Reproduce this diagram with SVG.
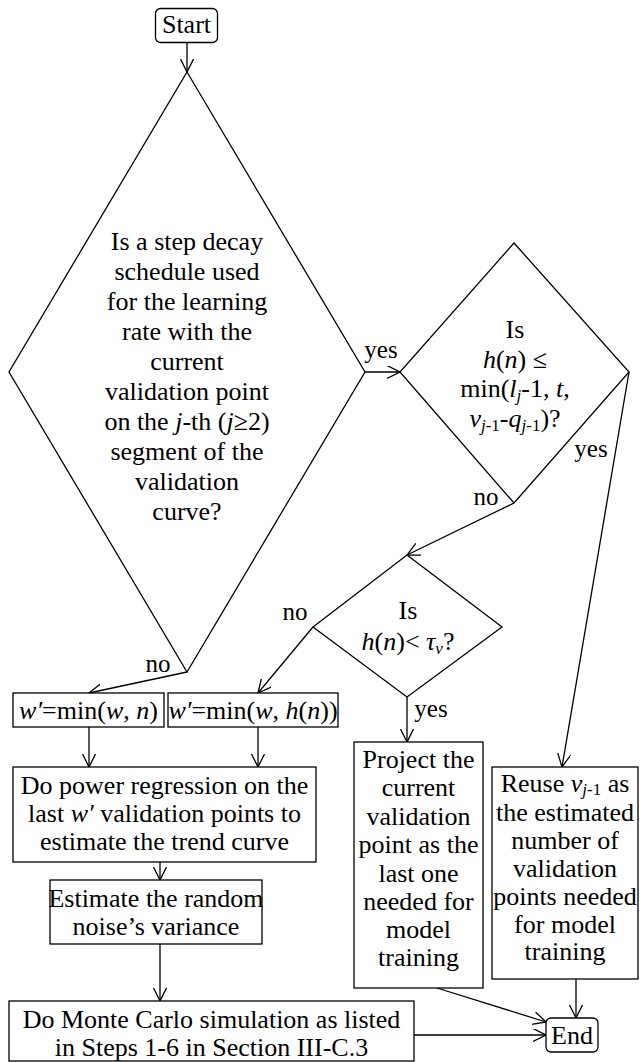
<svg xmlns="http://www.w3.org/2000/svg" width="640" height="1062" viewBox="0 0 640 1062">
<style>
text{font-family:"Liberation Serif","Times New Roman",serif;font-size:26px;fill:#000;text-anchor:middle}
.lbl{font-size:25px}
.i{font-style:italic}
.sub{font-size:17px}
.shape{fill:#fff;stroke:#000;stroke-width:1.3}
.conn line{stroke:#000;stroke-width:1.3;fill:none;marker-end:url(#ah)}
</style>
<defs>
<marker id="ah" markerUnits="userSpaceOnUse" markerWidth="16" markerHeight="16" refX="13" refY="6.5" orient="auto">
<path d="M0,0 L13,6.5 L0,13" fill="none" stroke="#000" stroke-width="1.3"/>
</marker>
</defs>
<g class="conn" id="connectors">
<line x1="187" y1="42" x2="187" y2="72"/>
<line x1="365" y1="372" x2="400" y2="372"/>
<line x1="187" y1="672" x2="89" y2="693"/>
<line x1="514" y1="503" x2="407" y2="555"/>
<line x1="629" y1="372" x2="562" y2="767"/>
<line x1="313" y1="627" x2="258" y2="693"/>
<line x1="407" y1="697" x2="407" y2="742"/>
<line x1="89" y1="727" x2="89" y2="767"/>
<line x1="258" y1="727" x2="258" y2="767"/>
<line x1="160" y1="862" x2="160" y2="880"/>
<line x1="160" y1="944" x2="160" y2="1001"/>
<line x1="414" y1="1035" x2="546" y2="1035"/>
<line x1="437" y1="988" x2="546" y2="1022"/>
<line x1="576" y1="979" x2="576" y2="1018"/>
<text class="lbl" x="381" y="358">yes</text>
<text class="lbl" x="158" y="672">no</text>
<text class="lbl" x="486" y="505">no</text>
<text class="lbl" x="591" y="457">yes</text>
<text class="lbl" x="295" y="620">no</text>
<text class="lbl" x="431" y="717">yes</text>
</g>
<g id="start">
<rect class="shape" x="155.5" y="8.5" width="62" height="34" rx="5"/>
<text x="186.5" y="33">Start</text>
</g>
<g id="d1">
<polygon class="shape" points="187,72 365,372 187,672 9,372"/>
<text x="187" y="250">Is a step decay</text>
<text x="187" y="280">schedule used</text>
<text x="187" y="310">for the learning</text>
<text x="187" y="340">rate with the</text>
<text x="187" y="370">current</text>
<text x="187" y="400">validation point</text>
<text x="187" y="430">on the <tspan class="i">j</tspan>-th (<tspan class="i">j</tspan>≥2)</text>
<text x="187" y="460">segment of the</text>
<text x="187" y="490">validation</text>
<text x="187" y="520">curve?</text>
</g>
<g id="d2">
<polygon class="shape" points="514,243 629,372 514,503 400,372"/>
<text x="515" y="338">Is</text>
<text x="515" y="368"><tspan class="i">h</tspan>(<tspan class="i">n</tspan>) ≤</text>
<text x="515" y="397">min(<tspan class="i">l</tspan><tspan class="sub i" dy="4">j</tspan><tspan dy="-4">-1, </tspan><tspan class="i">t</tspan>,</text>
<text x="515" y="427"><tspan class="i">v</tspan><tspan class="sub" dy="4"><tspan class="i">j</tspan>-1</tspan><tspan dy="-4">-</tspan><tspan class="i">q</tspan><tspan class="sub" dy="4"><tspan class="i">j</tspan>-1</tspan><tspan dy="-4">)?</tspan></text>
</g>
<g id="d3">
<polygon class="shape" points="407,555 502,627 407,697 313,627"/>
<text x="408" y="619">Is</text>
<text x="408" y="650"><tspan class="i">h</tspan>(<tspan class="i">n</tspan>)&lt; <tspan class="i">τ</tspan><tspan class="sub i" dy="4">v</tspan><tspan dy="-4">?</tspan></text>
</g>
<g id="box1">
<rect class="shape" x="13" y="693" width="151" height="34"/>
<text x="88.5" y="719"><tspan class="i">w′</tspan>=min(<tspan class="i">w</tspan>, <tspan class="i">n</tspan>)</text>
</g>
<g id="box2">
<rect class="shape" x="168" y="693" width="170" height="34"/>
<text x="253" y="719"><tspan class="i">w′</tspan>=min(<tspan class="i">w</tspan>, <tspan class="i">h</tspan>(<tspan class="i">n</tspan>))</text>
</g>
<g id="power">
<rect class="shape" x="13" y="767" width="303" height="95"/>
<text x="164.5" y="794">Do power regression on the</text>
<text x="164.5" y="822">last <tspan class="i">w′</tspan> validation points to</text>
<text x="164.5" y="850">estimate the trend curve</text>
</g>
<g id="estimate">
<rect class="shape" x="50" y="880" width="212" height="64"/>
<text x="156" y="907" font-size="25">Estimate the random</text>
<text x="156" y="935" font-size="25">noise’s variance</text>
</g>
<g id="montecarlo">
<rect class="shape" x="9" y="1001" width="405" height="60"/>
<text x="211.5" y="1028">Do Monte Carlo simulation as listed</text>
<text x="211.5" y="1056">in Steps 1-6 in Section III-C.3</text>
</g>
<g id="project">
<rect class="shape" x="354" y="742" width="129" height="246"/>
<text x="418.5" y="768">Project the</text>
<text x="418.5" y="796">current</text>
<text x="418.5" y="825">validation</text>
<text x="418.5" y="853">point as the</text>
<text x="418.5" y="882">last one</text>
<text x="418.5" y="910">needed for</text>
<text x="418.5" y="938">model</text>
<text x="418.5" y="966">training</text>
</g>
<g id="reuse">
<rect class="shape" x="492" y="767" width="146" height="212"/>
<text x="565" y="792">Reuse <tspan class="i">v</tspan><tspan class="sub" dy="3"><tspan class="i">j</tspan>-1</tspan><tspan dy="-3"> as</tspan></text>
<text x="565" y="821">the estimated</text>
<text x="565" y="849">number of</text>
<text x="565" y="877">validation</text>
<text x="565" y="905">points needed</text>
<text x="565" y="933">for model</text>
<text x="565" y="960">training</text>
</g>
<g id="end">
<rect class="shape" x="546" y="1018" width="52" height="34" rx="5"/>
<text x="572" y="1044">End</text>
</g>
</svg>
